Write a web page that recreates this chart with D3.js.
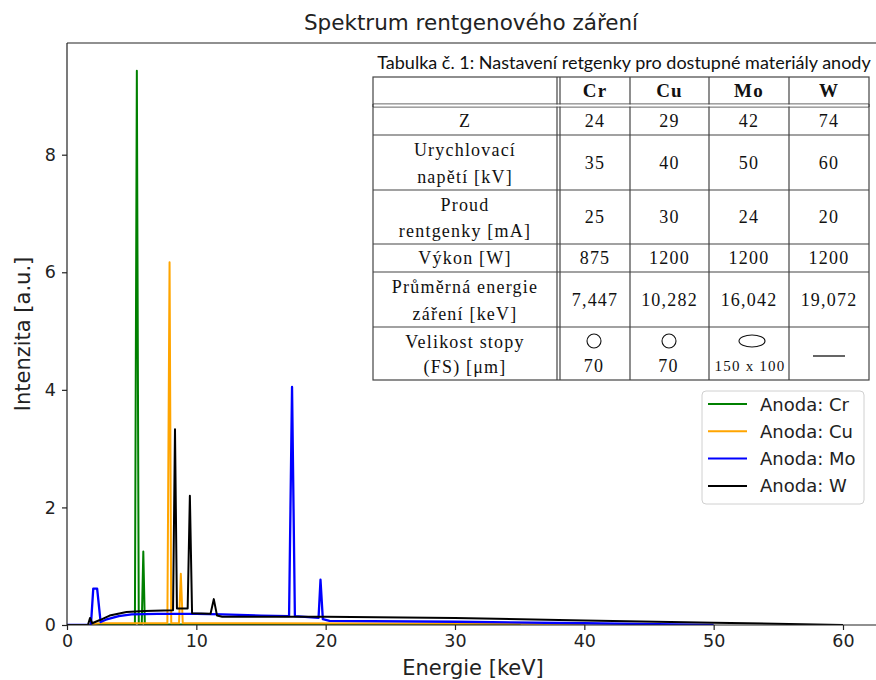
<!DOCTYPE html>
<html>
<head>
<meta charset="utf-8">
<script src="https://cdn.jsdelivr.net/npm/d3@7"></script>
<style>
  body { margin: 0; background: #fff; }
  svg text { font-family: "DejaVu Sans", sans-serif; fill: #222; }
  svg text.caption { font-family: "Lato", sans-serif; fill: #111; }
  .tbl text { font-family: "Liberation Serif", serif; fill: #111; letter-spacing: 1.2px; }
</style>
</head>
<body>
<div id="chart"></div>
<script>
// spectra: [energy keV, intensity a.u.]
var crSpectrum = [[0,0],[1.8,0],[2.5,0.01],[5.25,0.01],[5.4,9.43],[5.55,0.01],[5.78,0.01],[5.9,1.25],[6.02,0.01],[35,0.01],[35,0]];
var cuSpectrum = [[0,0],[1.8,0],[2.5,0.03],[7.76,0.03],[7.93,6.17],[8.06,0.03],[8.66,0.03],[8.8,0.87],[8.95,0.03],[40,0.02],[40,0]];
var moSpectrum = [[0,0],[1.85,0],[2.03,0.62],[2.33,0.62],[2.6,0.05],[3,0.09],[4,0.15],[5,0.18],[7,0.19],[10,0.19],[12,0.18],[15,0.16],[17.17,0.15],[17.4,4.05],[17.62,0.15],[19.45,0.12],[19.6,0.77],[19.78,0.1],[20.3,0.07],[30,0.055],[40,0.03],[50,0]];
var wSpectrum = [[0,0],[1.62,0],[1.78,0.12],[1.95,0.03],[2.5,0.08],[3.3,0.16],[4.6,0.22],[6,0.24],[8.2,0.25],[8.35,3.33],[8.5,0.28],[9.33,0.28],[9.5,2.2],[9.67,0.2],[11.1,0.19],[11.35,0.44],[11.6,0.16],[12,0.14],[20,0.14],[30,0.12],[40,0.075],[50,0.04],[60,0]];

var anodes = ["Cr", "Cu", "Mo", "W"];
var spectra = [crSpectrum, cuSpectrum, moSpectrum, wSpectrum];
var colors = ["green", "orange", "blue", "black"];

var energyTicks = [0, 10, 20, 30, 40, 50, 60];
var intensityTicks = [0, 2, 4, 6, 8];

// table data
var tableCols = ["Cr", "Cu", "Mo", "W"];
var tableRowLabels = [["Z"], ["Urychlovací", "napětí [kV]"], ["Proud", "rentgenky [mA]"], ["Výkon [W]"], ["Průměrná energie", "záření [keV]"], ["Velikost stopy", "(FS) [μm]"]];
var tableValues = [["24", "29", "42", "74"], ["35", "40", "50", "60"], ["25", "30", "24", "20"], ["875", "1200", "1200", "1200"], ["7,447", "10,282", "16,042", "19,072"]];
var spotSizes = ["70", "70", "150 x 100", ""];

var svgWidth = 876;
var svgHeight = 680;
var margin = { top: 43, left: 67, bottom: 55 };
var height = svgHeight - margin.top - margin.bottom;

var svg = d3.select("#chart")
  .append("svg")
  .attr("width", svgWidth)
  .attr("height", svgHeight);

var x = d3.scaleLinear().domain([0, 63]).range([margin.left, margin.left + 63 * (776 / 60)]);
var y = d3.scaleLinear().domain([0, 9.9]).range([margin.top + height, margin.top]);

svg.append("clipPath").attr("id", "clip")
  .append("rect")
  .attr("x", margin.left).attr("y", margin.top)
  .attr("width", svgWidth).attr("height", height);

// lines
var line = d3.line().x(d => x(d[0])).y(d => y(d[1]));
var lines = svg.append("g").attr("clip-path", "url(#clip)");
spectra.forEach(function(s, i) {
  lines.append("path")
    .attr("d", line(s))
    .attr("fill", "none")
    .attr("stroke", colors[i])
    .attr("stroke-width", i === 2 ? 2.3 : 2)
    .attr("stroke-linejoin", "round");
});

// axes
var bottomAxis = d3.axisBottom(x).tickValues(energyTicks).tickSize(5).tickPadding(5);
var leftAxis = d3.axisLeft(y).tickValues(intensityTicks).tickSize(5).tickPadding(6);

var xAxis = svg.append("g")
  .attr("transform", `translate(0, ${y(0)})`)
  .call(bottomAxis);
var yAxis = svg.append("g")
  .attr("transform", `translate(${margin.left}, 0)`)
  .call(leftAxis);
[xAxis, yAxis].forEach(function(a) {
  a.select(".domain").attr("stroke", "#222").attr("stroke-width", 1.2);
  a.selectAll(".tick line").attr("stroke", "#222").attr("stroke-width", 1.2);
  a.selectAll(".tick text").attr("font-size", 17.5).attr("fill", "#222");
});
xAxis.select(".domain").attr("d", `M${margin.left},0H${svgWidth}`);
yAxis.select(".domain").attr("d", `M0,${y(0)}V${margin.top}`);

// top spine
svg.append("line")
  .attr("x1", margin.left).attr("x2", svgWidth)
  .attr("y1", margin.top).attr("y2", margin.top)
  .attr("stroke", "#222").attr("stroke-width", 1.2);

// titles
svg.append("text")
  .attr("x", 471).attr("y", 30)
  .attr("text-anchor", "middle")
  .attr("font-size", 21.5)
  .text("Spektrum rentgenového záření");

svg.append("text")
  .attr("x", 473).attr("y", 675)
  .attr("text-anchor", "middle")
  .attr("font-size", 21)
  .text("Energie [keV]");

svg.append("text")
  .attr("transform", `translate(30, ${(margin.top + y(0)) / 2 + 0}) rotate(-90)`)
  .attr("text-anchor", "middle")
  .attr("font-size", 21)
  .text("Intenzita [a.u.]");

// legend
var legend = svg.append("g");
legend.append("rect")
  .attr("x", 702).attr("y", 391)
  .attr("width", 162).attr("height", 113)
  .attr("rx", 4)
  .attr("fill", "#fff").attr("fill-opacity", 0.8)
  .attr("stroke", "#d0d0d0");
anodes.forEach(function(a, i) {
  var ly = 404 + i * 27.3;
  legend.append("line")
    .attr("x1", 708).attr("x2", 747)
    .attr("y1", ly).attr("y2", ly)
    .attr("stroke", colors[i]).attr("stroke-width", 2);
  legend.append("text")
    .attr("x", 760).attr("y", ly)
    .attr("dominant-baseline", "central")
    .attr("font-size", 18)
    .text("Anoda: " + a);
});

// table overlay
var tbl = svg.append("g").attr("class", "tbl");
var colX = [373, 557, 560, 630, 709, 789, 869];
var rowY = [77, 104, 107, 135, 190, 244, 272, 327, 380];
var colCenter = [465, 595, 669.5, 749, 829];

svg.append("text")
  .attr("class", "caption")
  .attr("x", 624).attr("y", 69)
  .attr("text-anchor", "middle")
  .attr("font-size", 18)
  .text("Tabulka č. 1: Nastavení retgenky pro dostupné materiály anody");

tbl.append("rect")
  .attr("x", colX[0]).attr("y", rowY[0])
  .attr("width", colX[6] - colX[0]).attr("height", rowY[8] - rowY[0])
  .attr("fill", "#fff").attr("stroke", "#444").attr("stroke-width", 1.2);
colX.slice(1, 6).forEach(function(cx) {
  tbl.append("line").attr("x1", cx).attr("x2", cx)
    .attr("y1", rowY[0]).attr("y2", rowY[8])
    .attr("stroke", "#444").attr("stroke-width", 1.2);
});
rowY.slice(1, 8).forEach(function(ry) {
  tbl.append("line").attr("x1", colX[0]).attr("x2", colX[6])
    .attr("y1", ry).attr("y2", ry)
    .attr("stroke", "#444").attr("stroke-width", 1.2);
});
// gap between double header line
tbl.append("rect").attr("x", colX[0] + 0.6).attr("y", rowY[1] + 0.6)
  .attr("width", colX[6] - colX[0] - 1.2).attr("height", rowY[2] - rowY[1] - 1.2)
  .attr("fill", "#fff");
tbl.append("line").attr("x1", colX[0]).attr("x2", colX[0]).attr("y1", rowY[1]).attr("y2", rowY[2]).attr("stroke", "#444").attr("stroke-width", 1.2);
tbl.append("line").attr("x1", colX[6]).attr("x2", colX[6]).attr("y1", rowY[1]).attr("y2", rowY[2]).attr("stroke", "#444").attr("stroke-width", 1.2);

function cellText(cx, cy, t, opts) {
  opts = opts || {};
  tbl.append("text")
    .attr("x", cx).attr("y", cy)
    .attr("text-anchor", "middle")
    .attr("dominant-baseline", "central")
    .attr("font-size", opts.size || 18)
    .attr("font-weight", opts.bold ? "bold" : "normal")
    .text(t);
}

tableCols.forEach(function(c, i) {
  cellText(colCenter[i + 1], (rowY[0] + rowY[1]) / 2, c, { bold: true, size: 19 });
});

var bodyTops = [107, 135, 190, 244, 272, 327];
var bodyBottoms = [135, 190, 244, 272, 327, 380];
tableRowLabels.forEach(function(lbl, r) {
  var top = bodyTops[r], bot = bodyBottoms[r];
  if (lbl.length === 1) {
    cellText(colCenter[0], (top + bot) / 2, lbl[0]);
  } else {
    cellText(colCenter[0], top + 15, lbl[0]);
    cellText(colCenter[0], bot - 13, lbl[1]);
  }
  if (r < tableValues.length) {
    tableValues[r].forEach(function(v, i) {
      cellText(colCenter[i + 1], (top + bot) / 2, v, { size: 18 });
    });
  }
});

// spot size row
var spotTop = bodyTops[5];
tbl.append("circle").attr("cx", 594).attr("cy", spotTop + 14).attr("r", 7)
  .attr("fill", "none").attr("stroke", "#111").attr("stroke-width", 1.1);
tbl.append("circle").attr("cx", 669).attr("cy", spotTop + 14).attr("r", 7)
  .attr("fill", "none").attr("stroke", "#111").attr("stroke-width", 1.1);
tbl.append("ellipse").attr("cx", 752).attr("cy", spotTop + 14).attr("rx", 13).attr("ry", 6)
  .attr("fill", "none").attr("stroke", "#111").attr("stroke-width", 1.1);
tbl.append("line").attr("x1", 813).attr("x2", 845).attr("y1", spotTop + 29).attr("y2", spotTop + 29)
  .attr("stroke", "#111").attr("stroke-width", 1.3);
spotSizes.forEach(function(v, i) {
  if (v) cellText(i === 2 ? 750 : colCenter[i + 1] - 1, spotTop + 39, v, { size: i === 2 ? 15 : 18 });
});
</script>
</body>
</html>
